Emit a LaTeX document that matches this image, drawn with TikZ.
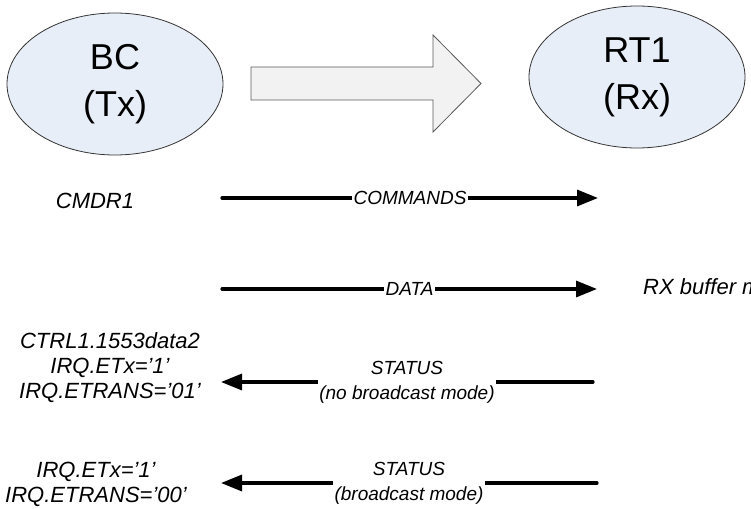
\documentclass[tikz,border=0pt]{standalone}
\usepackage{fontspec}
\setmainfont{Liberation Sans}
\usepackage{tikz}
\usetikzlibrary{arrows.meta,positioning,shapes.geometric}

\definecolor{unitfill}{HTML}{E8EEF8}
\definecolor{flowfill}{HTML}{F2F2F2}
\definecolor{flowline}{HTML}{5A5A5A}

\begin{document}
\begin{tikzpicture}[
  x=1pt, y=-1pt,
  unit/.style={draw=black!80, line width=0.8pt, ellipse, fill=unitfill, align=center, minimum width=216pt, minimum height=142pt, inner sep=0pt, font=\fontsize{36}{47}\selectfont},
  note/.style={align=center, inner sep=0pt, font=\itshape\fontsize{22}{25}\selectfont},
  lbl/.style={fill=white, align=center, inner sep=1.5pt, font=\itshape\fontsize{19}{25}\selectfont},
  arrow/.style={-{Triangle[length=21pt, width=16pt]}, line width=3.2pt, line cap=round}
]
\path[use as bounding box, clip] (0,0) rectangle (751,508);

% terminals
\node[unit] (bc) at (115,84) {BC\\(Tx)};
\node[unit] (rt1) at (637,77) {RT1\\(Rx)};

% transfer direction
\draw[draw=flowline, fill=flowfill, line width=0.8pt]
  (251,67) -- (433,67) -- (433,35) -- (481,83.5) -- (433,132) -- (433,100) -- (251,100) -- cycle;

% register notes
\node[note] (cmdr) at (95,201) {CMDR1};
\node[note, anchor=west] (rxbuf) at (643,287) {RX buffer m};
\node[note] (irqa) at (110,368) {CTRL1.1553data2\\IRQ.ETx='1'\\IRQ.ETRANS='01'};
\node[note] (irqb) at (96,484) {IRQ.ETx='1'\\IRQ.ETRANS='00'};

% message ends
\coordinate (cmdL) at (222,198);
\coordinate (cmdR) at (598,198);
\coordinate (dataL) at (222,289);
\coordinate (dataR) at (597,289);
\coordinate (staL) at (221,382);
\coordinate (staR) at (593,382);
\coordinate (stbL) at (221,483);
\coordinate (stbR) at (597,483);

\draw[arrow] (cmdL) -- node[lbl] {COMMANDS} (cmdR);
\draw[arrow] (dataL) -- node[lbl] {DATA} (dataR);
\draw[arrow] (staR) -- node[lbl] {STATUS\\(no broadcast mode)} (staL);
\draw[arrow] (stbR) -- node[lbl] {STATUS\\(broadcast mode)} (stbL);
\end{tikzpicture}
\end{document}
